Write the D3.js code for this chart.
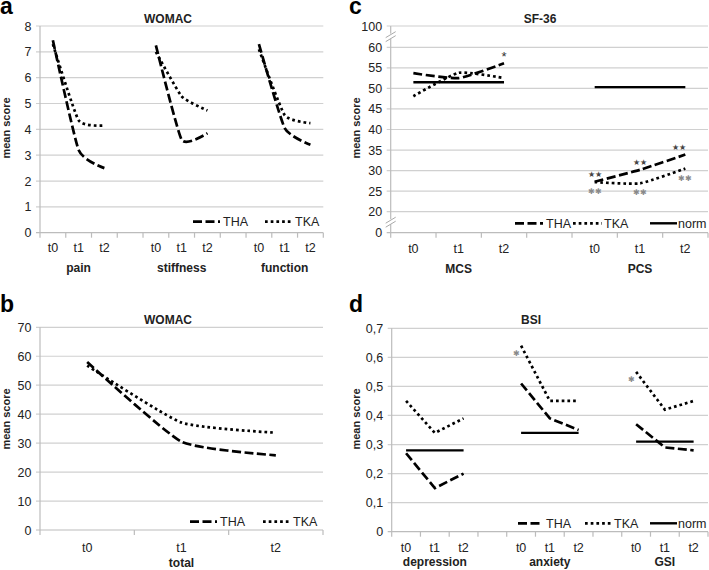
<!DOCTYPE html>
<html><head><meta charset="utf-8">
<script src="https://cdn.jsdelivr.net/npm/d3@7"></script>
<style>
body{margin:0;background:#fff}
svg{display:block}
text{font-family:"Liberation Sans",Arial,sans-serif}
</style>
</head><body>
<svg id="chart" width="709" height="570"></svg>
<script>
// ---------------- data ----------------
const timeLabels = ["t0", "t1", "t2"];

const groupsA = ["pain", "stiffness", "function"];
const thaA = [[7.45, 3.2, 2.5], [7.25, 3.6, 3.85], [7.3, 4.05, 3.4]];
const tkaA = [[7.3, 4.35, 4.15], [7.0, 5.28, 4.73], [7.1, 4.55, 4.24]];
const yTicksA = [0, 1, 2, 3, 4, 5, 6, 7, 8];

const groupsB = ["total"];
const thaB = [[58, 30.5, 25.8]];
const tkaB = [[56.8, 37.1, 33.6]];
const yTicksB = [0, 10, 20, 30, 40, 50, 60, 70];

const groupsC = ["MCS", "PCS"];
const thaC = [[53.7, 52.5, 56.1], [27.3, 30.2, 33.9]];
const tkaC = [[48.1, 53.8, 52.5], [27.2, 26.9, 30.5]];
const normC = [51.5, 50.3];
const yTicksC = [0, 20, 25, 30, 35, 40, 45, 50, 55, 60, 100];
const marksC = [
  {group: 0, t: 2, series: "THA", text: "*", kind: "star"},
  {group: 1, t: 0, series: "THA", text: "★★", kind: "black"},
  {group: 1, t: 1, series: "THA", text: "★★", kind: "black"},
  {group: 1, t: 2, series: "THA", text: "★★", kind: "black"},
  {group: 1, t: 0, series: "TKA", text: "✱✱", kind: "gray"},
  {group: 1, t: 1, series: "TKA", text: "✱✱", kind: "gray"},
  {group: 1, t: 2, series: "TKA", text: "✱✱", kind: "gray"}
];

const groupsD = ["depression", "anxiety", "GSI"];
const thaD = [[0.27, 0.15, 0.2], [0.51, 0.39, 0.35], [0.37, 0.29, 0.28]];
const tkaD = [[0.45, 0.34, 0.39], [0.64, 0.45, 0.45], [0.55, 0.42, 0.45]];
const normD = [0.28, 0.34, 0.31];
const yTicksD = [0, 0.1, 0.2, 0.3, 0.4, 0.5, 0.6, 0.7];
const marksD = [
  {group: 1, t: 0, series: "TKA", text: "✱", kind: "grayLeft"},
  {group: 2, t: 0, series: "TKA", text: "✱", kind: "grayLeft"}
];

// ---------------- styles ----------------
const svg = d3.select("#chart");
const GRID = "#d0d0d0", AXIS = "#bcbcbc", TXT = "#222";
const seriesStyle = {
  THA: {dash: "9,3.5", width: 2.7},
  TKA: {dash: "2.7,3", width: 2.7},
  norm: {dash: null, width: 2.4}
};
const markStyle = {
  star:     {font: "Liberation Sans", size: 13, fill: "#333", dx: 0,  dy: -2, anchor: "middle"},
  black:    {font: "DejaVu Sans", size: 8, fill: "#444", dx: 0, dy: -5, anchor: "middle"},
  gray:     {font: "DejaVu Sans", size: 7.5, fill: "#8a8a8a", dx: 0, dy: 12, anchor: "middle"},
  grayLeft: {font: "DejaVu Sans", size: 7.5, fill: "#8a8a8a", dx: -5, dy: 10, anchor: "middle"}
};

function drawPanel(cfg) {
  const g = svg.append("g");
  const nSlots = cfg.groups.length * 4 - 1;
  const x = d3.scaleBand().domain(d3.range(nSlots)).range([cfg.left, cfg.right]).paddingInner(0).paddingOuter(0);
  const cx = i => x(i) + x.bandwidth() / 2;
  const y = cfg.y;
  const y0 = y(cfg.yTicks[0]);

  // gridlines + y ticks
  g.selectAll(".grid").data(cfg.yTicks.slice(1)).join("line")
    .attr("x1", cfg.left - 4).attr("x2", cfg.right)
    .attr("y1", d => y(d)).attr("y2", d => y(d))
    .attr("stroke", GRID).attr("stroke-width", 1.2);
  g.selectAll(".ylab").data(cfg.yTicks).join("text")
    .attr("x", cfg.left - 8.5).attr("y", d => y(d)).attr("dy", "0.36em")
    .attr("text-anchor", "end").attr("font-size", 12.5).attr("fill", TXT)
    .text(d => cfg.fmt(d));

  // axes
  g.append("line").attr("x1", cfg.left).attr("x2", cfg.left).attr("y1", y(cfg.yTicks[cfg.yTicks.length - 1])).attr("y2", y0)
    .attr("stroke", AXIS).attr("stroke-width", 1.2);
  g.append("line").attr("x1", cfg.left - 4).attr("x2", cfg.right).attr("y1", y0).attr("y2", y0)
    .attr("stroke", AXIS).attr("stroke-width", 1.2);
  const bounds = d3.range(nSlots + 1).map(i => i < nSlots ? x(i) : cfg.right);
  g.selectAll(".xt").data(bounds).join("line")
    .attr("x1", d => d).attr("x2", d => d).attr("y1", y0).attr("y2", y0 + 5)
    .attr("stroke", AXIS).attr("stroke-width", 1.2);

  // breaks
  (cfg.breaks || []).forEach(b => {
    const yb = (y(b[0]) + y(b[1])) / 2;
    g.append("rect").attr("x", cfg.left - 5).attr("y", yb - 3).attr("width", 10).attr("height", 5).attr("fill", "#fff");
    [-2, 2].forEach(o => {
      g.append("line").attr("x1", cfg.left - 5).attr("x2", cfg.left + 5)
        .attr("y1", yb + 3 + o).attr("y2", yb - 3 + o)
        .attr("stroke", "#aaa").attr("stroke-width", 1);
    });
  });

  // x labels
  cfg.groups.forEach((grp, gi) => {
    timeLabels.forEach((t, ti) => {
      g.append("text").attr("x", cx(gi * 4 + ti)).attr("y", cfg.tickBase)
        .attr("text-anchor", "middle").attr("font-size", 12.5).attr("fill", TXT).text(t);
    });
    g.append("text").attr("x", cx(gi * 4 + 1)).attr("y", cfg.groupBase)
      .attr("text-anchor", "middle").attr("font-size", 12).attr("font-weight", "bold").attr("fill", TXT).text(grp);
  });

  // lines
  const line = d3.line().x(d => cx(d[0])).y(d => y(d[1])).curve(cfg.curve);
  const drawSeries = (vals, key) => {
    const st = seriesStyle[key];
    vals.forEach((v, gi) => {
      const pts = v.map((val, ti) => [gi * 4 + ti, val]);
      g.append("path").attr("d", line(pts)).attr("fill", "none").attr("stroke", "#000")
        .attr("stroke-width", st.width).attr("stroke-dasharray", st.dash);
    });
  };
  if (cfg.norm) {
    cfg.norm.forEach((v, gi) => {
      g.append("line").attr("x1", cx(gi * 4)).attr("x2", cx(gi * 4 + 2))
        .attr("y1", y(v)).attr("y2", y(v)).attr("stroke", "#000").attr("stroke-width", seriesStyle.norm.width);
    });
  }
  drawSeries(cfg.tka, "TKA");
  drawSeries(cfg.tha, "THA");

  // significance marks
  (cfg.marks || []).forEach(m => {
    const st = markStyle[m.kind];
    const src = m.series === "THA" ? cfg.tha : cfg.tka;
    let dx = st.dx;
    if (m.t === 2 && m.kind === "black") dx = -6;
    g.append("text").attr("x", cx(m.group * 4 + m.t) + dx).attr("y", y(src[m.group][m.t]) + st.dy)
      .attr("text-anchor", st.anchor).attr("font-family", st.font).attr("font-size", st.size)
      .attr("fill", st.fill).text(m.text);
  });

  // legend
  cfg.legend.forEach(([key, x1, x2, tx]) => {
    const st = seriesStyle[key];
    g.append("line").attr("x1", x1).attr("x2", x2).attr("y1", cfg.legendY).attr("y2", cfg.legendY)
      .attr("stroke", "#000").attr("stroke-width", st.width).attr("stroke-dasharray", st.dash);
    g.append("text").attr("x", tx).attr("y", cfg.legendY).attr("dy", "0.36em")
      .attr("font-size", 12.5).attr("fill", TXT).text(key);
  });

  // title, axis label, panel letter
  g.append("text").attr("x", cfg.titleX).attr("y", cfg.titleY).attr("text-anchor", "middle")
    .attr("font-size", 12).attr("font-weight", "bold").attr("fill", TXT).text(cfg.title);
  g.append("text").attr("transform", `translate(${cfg.ylabX},${cfg.ylabY}) rotate(-90)`)
    .attr("text-anchor", "middle").attr("font-size", 11).attr("font-weight", "bold").attr("fill", TXT).text("mean score");
  g.append("text").attr("x", cfg.letterX).attr("y", cfg.letterY)
    .attr("font-size", 23).attr("font-weight", "bold").attr("fill", "#000").text(cfg.letter);
}

const smooth = d3.curveCardinal.tension(0.5);
const dot = d => String(d);
const comma = d => d === 0 ? "0" : d3.format(".1f")(d).replace(".", ",");

drawPanel({
  groups: groupsA, tha: thaA, tka: tkaA, yTicks: yTicksA, fmt: dot, curve: smooth,
  left: 40, right: 323.3, y: d3.scaleLinear().domain([0, 8]).range([232.7, 26]),
  tickBase: 251.5, groupBase: 272, title: "WOMAC", titleX: 168, titleY: 23.3,
  ylabX: 10, ylabY: 128, letter: "a", letterX: 0, letterY: 14,
  legendY: 221.7, legend: [["THA", 193, 220, 223], ["TKA", 265, 292, 295]]
});

drawPanel({
  groups: groupsB, tha: thaB, tka: tkaB, yTicks: yTicksB, fmt: dot, curve: smooth,
  left: 40, right: 323, y: d3.scaleLinear().domain([0, 70]).range([530, 327.3]),
  tickBase: 552, groupBase: 566.5, title: "WOMAC", titleX: 168, titleY: 324.3,
  ylabX: 10, ylabY: 419, letter: "b", letterX: 0, letterY: 312,
  legendY: 521.7, legend: [["THA", 190, 217, 220], ["TKA", 263, 290, 293]]
});

drawPanel({
  groups: groupsC, tha: thaC, tka: tkaC, norm: normC, yTicks: yTicksC, fmt: dot, curve: smooth,
  marks: marksC, breaks: [[60, 100], [0, 20]],
  left: 390.7, right: 708, y: d3.scaleLinear().domain([0, 20, 60, 100]).range([232.7, 211.7, 47.3, 26]),
  tickBase: 252.5, groupBase: 273, title: "SF-36", titleX: 540, titleY: 23.3,
  ylabX: 360, ylabY: 128, letter: "c", letterX: 349, letterY: 14,
  legendY: 223.3, legend: [["THA", 515, 543, 546], ["TKA", 573, 602, 604], ["norm", 650, 677, 678]]
});

drawPanel({
  groups: groupsD, tha: thaD, tka: tkaD, norm: normD, yTicks: yTicksD, fmt: comma, curve: d3.curveLinear,
  marks: marksD,
  left: 391.7, right: 708, y: d3.scaleLinear().domain([0, 0.7]).range([531.7, 328.3]),
  tickBase: 552, groupBase: 566, title: "BSI", titleX: 531, titleY: 324.3,
  ylabX: 360, ylabY: 419, letter: "d", letterX: 349, letterY: 312,
  legendY: 523.3, legend: [["THA", 518, 543, 546], ["TKA", 585, 612, 614], ["norm", 650, 677, 678]]
});
</script>
</body></html>
